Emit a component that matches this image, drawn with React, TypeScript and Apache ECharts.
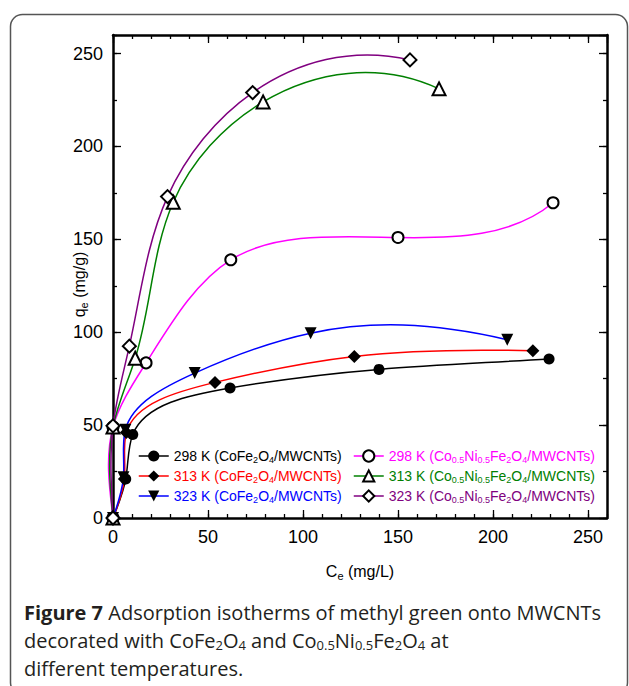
import React, { useEffect, useRef } from "react";
import * as echarts from "echarts";

// ---- data ----
const ce298Co = [0, 6.7, 10.4, 61.6, 140, 229.5];
const qe298Co = [0, 21, 45, 70, 80, 85.6];
const ce313Co = [0, 6, 7, 53.7, 127, 221];
const qe313Co = [0, 21, 46, 73, 87, 90];
const ce323Co = [0, 5.5, 6.5, 43, 104, 207.5];
const qe323Co = [0, 22, 47.5, 78, 99.5, 96];
const ce298CoNi = [0, 0, 17.4, 62, 150, 231.6];
const qe298CoNi = [0, 49, 83.5, 139, 151, 169.7];
const ce313CoNi = [0, 0, 11.7, 31.7, 79, 171.6];
const qe313CoNi = [0, 49, 86, 170, 224, 231];
const ce323CoNi = [0, 0, 8.6, 28.7, 73.5, 156.3];
const qe323CoNi = [0, 49.6, 92.5, 173, 229, 246.6];

const seriesNames = [
  "298 K (CoFe2O4/MWCNTs)",
  "313 K (CoFe2O4/MWCNTs)",
  "323 K (CoFe2O4/MWCNTs)",
  "298 K (Co0.5Ni0.5Fe2O4/MWCNTs)",
  "313 K (Co0.5Ni0.5Fe2O4/MWCNTs)",
  "323 K (Co0.5Ni0.5Fe2O4/MWCNTs)",
];
// markup: text between underscores is subscript
const legendMarkup = [
  "298 K (CoFe_2_O_4_/MWCNTs)",
  "313 K (CoFe_2_O_4_/MWCNTs)",
  "323 K (CoFe_2_O_4_/MWCNTs)",
  "298 K (Co_0.5_Ni_0.5_Fe_2_O_4_/MWCNTs)",
  "313 K (Co_0.5_Ni_0.5_Fe_2_O_4_/MWCNTs)",
  "323 K (Co_0.5_Ni_0.5_Fe_2_O_4_/MWCNTs)",
];
const colors = ["#000000", "#ff0000", "#0000ff", "#ff00ff", "#008000", "#800080"];
const symbols = ["circle", "diamond", "triangle", "emptyCircle", "emptyTriangle", "emptyDiamond"];
const symbolSizes = [11, 13, 12, 11, 13, 13];
const symbolRotates = [0, 0, 180, 0, 0, 0];
const xs = [ce298Co, ce313Co, ce323Co, ce298CoNi, ce313CoNi, ce323CoNi];
const ys = [qe298Co, qe313Co, qe323Co, qe298CoNi, qe313CoNi, qe323CoNi];

const xMax = 260;
const yMax = 260;

const FONT = "Arial, Helvetica, sans-serif";
const CAPFONT = "'Open Sans', 'Noto Sans', sans-serif";

function toRich(markup: string, i: number) {
  const parts = markup.split("_");
  return parts
    .map((p, k) => (p === "" ? "" : k % 2 === 0 ? `{t${i}|${p}}` : `{s${i}|${p}}`))
    .join("");
}

function solve(A: number[][], B: number[][]) {
  const n = A.length;
  const a = A.map((r) => r.slice());
  const b = B.map((r) => r.slice());
  for (let c = 0; c < n; c++) {
    let p = c;
    for (let r = c + 1; r < n; r++) if (Math.abs(a[r][c]) > Math.abs(a[p][c])) p = r;
    [a[c], a[p]] = [a[p], a[c]];
    [b[c], b[p]] = [b[p], b[c]];
    for (let r = c + 1; r < n; r++) {
      const f = a[r][c] / a[c][c];
      for (let k = c; k < n; k++) a[r][k] -= f * a[c][k];
      b[r] = [b[r][0] - f * b[c][0], b[r][1] - f * b[c][1]];
    }
  }
  const x: number[][] = new Array(n);
  for (let r = n - 1; r >= 0; r--) {
    let s0 = b[r][0], s1 = b[r][1];
    for (let k = r + 1; k < n; k++) {
      s0 -= a[r][k] * x[k][0];
      s1 -= a[r][k] * x[k][1];
    }
    x[r] = [s0 / a[r][r], s1 / a[r][r]];
  }
  return x;
}

// Parametric cubic spline (chord-length parameter) through pixel points:
// natural start, not-a-knot end. Returned as bezier segments.
function splineSegments(P: number[][]) {
  const n = P.length - 1;
  const h: number[] = [];
  for (let i = 0; i < n; i++) {
    h.push(Math.max(1e-3, Math.hypot(P[i + 1][0] - P[i][0], P[i + 1][1] - P[i][1])));
  }
  const A: number[][] = [];
  const B: number[][] = [];
  for (let i = 0; i <= n; i++) {
    const row = new Array(n + 1).fill(0);
    if (i === 0) {
      row[0] = 1;
      A.push(row);
      B.push([0, 0]);
    } else if (i === n) {
      if (n >= 3) {
        row[n - 2] = -h[n - 1];
        row[n - 1] = h[n - 1] + h[n - 2];
        row[n] = -h[n - 2];
      } else row[n] = 1;
      A.push(row);
      B.push([0, 0]);
    } else {
      row[i - 1] = h[i - 1];
      row[i] = 2 * (h[i - 1] + h[i]);
      row[i + 1] = h[i];
      A.push(row);
      B.push([0, 1].map((q) => 6 * ((P[i + 1][q] - P[i][q]) / h[i] - (P[i][q] - P[i - 1][q]) / h[i - 1])));
    }
  }
  const M = solve(A, B);
  const segs: any[] = [];
  for (let i = 0; i < n; i++) {
    const hi = h[i];
    const D0 = [0, 1].map((q) => (P[i + 1][q] - P[i][q]) / hi - (hi * (2 * M[i][q] + M[i + 1][q])) / 6);
    const D1 = [0, 1].map((q) => (P[i + 1][q] - P[i][q]) / hi + (hi * (M[i][q] + 2 * M[i + 1][q])) / 6);
    segs.push({
      x1: P[i][0],
      y1: P[i][1],
      cpx1: P[i][0] + (D0[0] * hi) / 3,
      cpy1: P[i][1] + (D0[1] * hi) / 3,
      cpx2: P[i + 1][0] - (D1[0] * hi) / 3,
      cpy2: P[i + 1][1] - (D1[1] * hi) / 3,
      x2: P[i + 1][0],
      y2: P[i + 1][1],
    });
  }
  return segs;
}

export default function App() {
  const ref = useRef<HTMLDivElement>(null);
  useEffect(() => {
    document.body.style.margin = "0";
    if (!ref.current) return;
    const chart = echarts.init(ref.current, undefined, { renderer: "svg" });

    const rich: any = {};
    colors.forEach((c, i) => {
      rich[`t${i}`] = { color: c, fontSize: 14, fontFamily: FONT, lineHeight: 16 };
      rich[`s${i}`] = { color: c, fontSize: 9, fontFamily: FONT, padding: [7, 0, 0, 0] };
    });

    // curves (smooth spline through the data, positioned by the axes)
    const curveSeries = [0, 1, 2, 3, 4, 5].map((i) => ({
      type: "custom",
      name: "curve" + i,
      xAxisIndex: 0,
      yAxisIndex: 0,
      silent: true,
      z: 1,
      data: xs[i].map((x, k) => [x, ys[i][k]]),
      renderItem: (params: any, api: any) => {
        if (params.dataIndex !== 0) return null;
        const pts = xs[i].map((x, k) => api.coord([x, ys[i][k]]));
        const segs = splineSegments(pts);
        return {
          type: "group",
          children: segs.map((s) => ({
            type: "bezierCurve",
            shape: s,
            style: { stroke: colors[i], lineWidth: 1.5, fill: "none" },
          })),
        };
      },
    }));

    // markers: draw order blue, red, black on top; then CoNi
    const order = [2, 1, 0, 3, 4, 5];
    const markerSeries = order.map((i) => ({
      name: seriesNames[i],
      type: "line",
      xAxisIndex: 0,
      yAxisIndex: 0,
      data: xs[i].map((x, k) => [x, ys[i][k]]),
      symbol: symbols[i],
      symbolSize: symbolSizes[i],
      symbolRotate: symbolRotates[i],
      showAllSymbol: true,
      lineStyle: { color: colors[i], width: 0, opacity: 0 },
      itemStyle: {
        color: "#000",
        borderColor: "#000",
        borderWidth: symbols[i].startsWith("empty") ? 1.5 : 0,
      },
      z: 3 + order.indexOf(i),
      emphasis: { disabled: true },
    }));

    const legendCommon = {
      orient: "vertical",
      itemWidth: 30,
      itemHeight: 14,
      itemGap: 5,
      selectedMode: false,
      formatter: (name: string) => {
        const i = seriesNames.indexOf(name);
        return toRich(legendMarkup[i], i);
      },
      textStyle: { rich, fontFamily: FONT, fontSize: 14 },
    };
    const legendItems = (from: number, to: number) =>
      seriesNames.slice(from, to).map((name, k) => ({
        name,
        lineStyle: { color: colors[from + k], width: 1.5, opacity: 1, type: "solid" },
      }));

    const axisBase = (pos: string, interval: number, max: number, major: boolean, labels: boolean, line: boolean) => ({
      type: "value",
      position: pos,
      min: 0,
      max,
      interval,
      axisLine: { show: line, onZero: false, lineStyle: { color: "#000", width: 2.5 } },
      axisTick: { show: true, inside: true, length: major ? 8 : 4, lineStyle: { color: "#000", width: 1.3 } },
      axisLabel: {
        show: labels,
        showMaxLabel: false,
        color: "#000",
        fontSize: 18,
        fontFamily: FONT,
        margin: 10,
      },
      splitLine: { show: false },
    });

    const nameStyle = (pad: number[]) => ({
      color: "#000",
      fontSize: 16,
      fontFamily: FONT,
      padding: pad,
      rich: {
        sub: { fontSize: 11, fontFamily: FONT, color: "#000", padding: [8, 0, 0, 0] },
      },
    });

    const option: any = {
      animation: false,
      backgroundColor: "#fff",
      grid: { left: 113, right: 22, top: 35, bottom: 168, containLabel: false },
      xAxis: [
        {
          ...axisBase("bottom", 50, xMax, true, true, true),
          name: "C{sub|e} (mg/L)",
          nameLocation: "middle",
          nameGap: 44,
          nameMoveOverlap: false,
          nameTextStyle: nameStyle([0, 0, 0, 0]),
        },
        axisBase("bottom", 10, xMax, false, false, false),
        axisBase("top", 50, xMax, true, false, true),
        axisBase("top", 10, xMax, false, false, false),
      ],
      yAxis: [
        {
          ...axisBase("left", 50, yMax, true, true, true),
          name: "q{sub|e} (mg/g)",
          nameLocation: "middle",
          nameGap: 24,
          nameMoveOverlap: false,
          nameTextStyle: nameStyle([0, 16, 0, 0]),
        },
        axisBase("left", 25, yMax, false, false, false),
        axisBase("right", 50, yMax, true, false, true),
        axisBase("right", 25, yMax, false, false, false),
      ],
      legend: [
        { ...legendCommon, left: 133, top: 444, data: legendItems(0, 3) },
        { ...legendCommon, left: 348, top: 444, data: legendItems(3, 6) },
      ],
      graphic: [
        {
          type: "rect",
          shape: { x: 10.5, y: 14.5, width: 617, height: 680, r: 12 },
          style: { fill: "none", stroke: "#555", lineWidth: 1.5 },
          silent: true,
          z: -1,
        },
        {
          type: "text",
          x: 24,
          y: 598,
          style: {
            text:
              "{b|Figure 7} Adsorption isotherms of methyl green onto MWCNTs\n" +
              "decorated with CoFe{s|2}O{s|4} and Co{s|0.5}Ni{s|0.5}Fe{s|2}O{s|4} at\n" +
              "different temperatures.",
            fill: "#231f20",
            fontSize: 20,
            fontFamily: CAPFONT,
            lineHeight: 28,
            rich: {
              b: { fontSize: 20, fontWeight: "bold", fontFamily: CAPFONT, fill: "#231f20", lineHeight: 28 },
              s: { fontSize: 13, fontFamily: CAPFONT, fill: "#231f20", padding: [9, 0, 0, 0] },
            },
          },
        },
      ],
      series: [...curveSeries, ...markerSeries],
    };
    chart.setOption(option);
    return () => chart.dispose();
  }, []);
  return <div ref={ref} style={{ width: 629, height: 686 }} />;
}
